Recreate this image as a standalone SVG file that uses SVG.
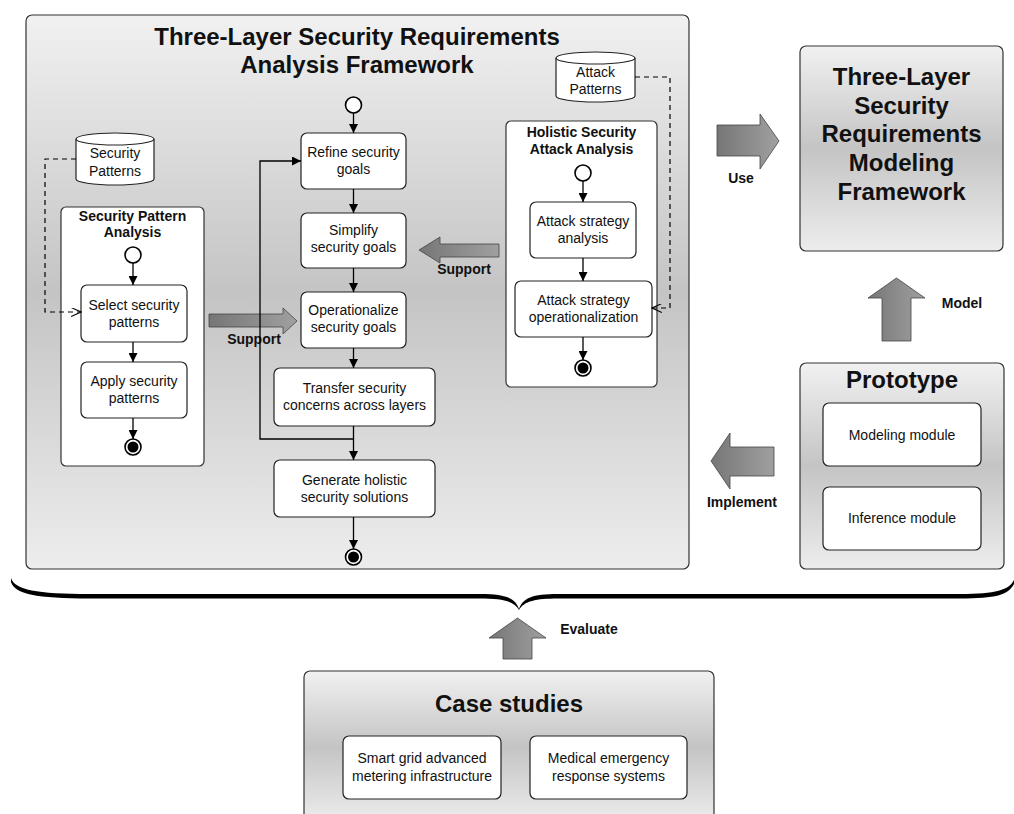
<svg xmlns="http://www.w3.org/2000/svg" width="1014" height="814" viewBox="0 0 1014 814">
  <defs>
    <linearGradient id="panelFill" x1="0" y1="0" x2="0" y2="1">
      <stop offset="0" stop-color="#f1f1f1"/>
      <stop offset="0.5" stop-color="#c4c4c4"/>
      <stop offset="1" stop-color="#ededed"/>
    </linearGradient>
    <linearGradient id="blockFill" x1="0" y1="0" x2="1" y2="0">
      <stop offset="0" stop-color="#767676"/>
      <stop offset="1" stop-color="#a0a0a0"/>
    </linearGradient>
    <marker id="arrowSolid" viewBox="0 0 10 10" refX="10" refY="5" markerWidth="9" markerHeight="9" markerUnits="userSpaceOnUse" orient="auto">
      <path d="M0,0 L10,5 L0,10 z" fill="#000"/>
    </marker>
    <marker id="arrowOpen" viewBox="0 0 12 10" refX="11" refY="5" markerWidth="11" markerHeight="9" markerUnits="userSpaceOnUse" orient="auto">
      <path d="M0,0 L11,5 L0,10" fill="none" stroke="#000" stroke-width="1.2"/>
    </marker>
  </defs>
  <style>
    .panel { fill: url(#panelFill); stroke: #333; stroke-width: 1.2; }
    .lane { fill: #fff; stroke: #333; stroke-width: 1.2; }
    .act { fill: #fff; stroke: #222; stroke-width: 1.2; }
    .store { fill: #fff; stroke: #222; stroke-width: 1.2; }
    .block { fill: url(#blockFill); stroke: #444; stroke-width: 0.8; }
    .flow { fill: none; stroke: #000; stroke-width: 1.3; marker-end: url(#arrowSolid); }
    .trace { fill: none; stroke: #000; stroke-width: 1.2; stroke-dasharray: 5 4; marker-end: url(#arrowOpen); }
    .start { fill: #fff; stroke: #000; stroke-width: 1.6; }
    .endRing { fill: #fff; stroke: #000; stroke-width: 1.6; }
    .endDot { fill: #000; }
    text { font-family: "Liberation Sans", Arial, Helvetica, sans-serif; fill: #111; text-anchor: middle; }
    .t { font-size: 14px; }
    .tb { font-size: 14px; font-weight: bold; }
    .big { font-size: 24px; font-weight: bold; }
  </style>

  <!-- analysis framework panel -->
  <g id="analysis-framework">
    <rect class="panel" x="26" y="15" width="663" height="554" rx="6"/>
    <text class="big" x="357" y="45">Three-Layer Security Requirements</text>
    <text class="big" x="357" y="73">Analysis Framework</text>
  </g>

  <!-- block arrows and their labels -->
  <g id="support-left">
    <path class="block" d="M209,314 L283,314 L283,308 L297,321 L283,334 L283,327 L209,327 Z"/>
    <text class="tb" x="254" y="344">Support</text>
  </g>
  <g id="support-right">
    <path class="block" d="M499,244 L440,244 L440,237 L419,250 L440,263 L440,257 L499,257 Z"/>
    <text class="tb" x="464" y="274">Support</text>
  </g>
  <g id="use-arrow">
    <path class="block" d="M717,125 L760,125 L760,114 L779,141 L760,169 L760,156 L717,156 Z"/>
    <text class="tb" x="741" y="183">Use</text>
  </g>
  <g id="model-arrow">
    <path class="block" d="M882,341 L882,298 L868,298 L896.5,278 L925,298 L911,298 L911,341 Z"/>
    <text class="tb" x="962" y="308">Model</text>
  </g>
  <g id="implement-arrow">
    <path class="block" d="M774,447 L730,447 L730,433 L711,461 L730,489 L730,476 L774,476 Z"/>
    <text class="tb" x="742" y="507">Implement</text>
  </g>
  <g id="evaluate-arrow">
    <path class="block" d="M503,659 L503,638 L489,638 L517.5,618 L546,638 L532,638 L532,659 Z"/>
    <text class="tb" x="589" y="634">Evaluate</text>
  </g>

  <!-- data stores -->
  <g id="security-patterns">
    <path class="store" d="M76,139 A39,6 0 0 1 154,139 L154,179 A39,6 0 0 1 76,179 Z"/>
    <path class="store" d="M76,139 A39,6 0 0 0 154,139" fill="none"/>
    <text class="t" x="115" y="158">Security</text>
    <text class="t" x="115" y="176">Patterns</text>
  </g>
  <g id="attack-patterns">
    <path class="store" d="M556,58 A39.5,6 0 0 1 635,58 L635,96 A39.5,6 0 0 1 556,96 Z"/>
    <path class="store" d="M556,58 A39.5,6 0 0 0 635,58" fill="none"/>
    <text class="t" x="595.5" y="77">Attack</text>
    <text class="t" x="595.5" y="94">Patterns</text>
  </g>

  <!-- security pattern analysis lane -->
  <g id="security-pattern-analysis">
    <rect class="lane" x="61" y="207" width="143" height="259" rx="5"/>
    <text class="tb" x="132.5" y="221">Security Pattern</text>
    <text class="tb" x="132.5" y="237">Analysis</text>
  </g>
  <g id="spa-start"><circle class="start" cx="133" cy="255" r="8"/></g>
  <g id="select-patterns">
    <rect class="act" x="81" y="285" width="106" height="57" rx="6"/>
    <text class="t" x="134" y="310">Select security</text>
    <text class="t" x="134" y="327">patterns</text>
  </g>
  <g id="apply-patterns">
    <rect class="act" x="81" y="362" width="106" height="56" rx="6"/>
    <text class="t" x="134" y="386">Apply security</text>
    <text class="t" x="134" y="403">patterns</text>
  </g>
  <g id="spa-end">
    <circle class="endRing" cx="133" cy="447" r="8"/>
    <circle class="endDot" cx="133" cy="447" r="5.5"/>
  </g>

  <!-- main activity flow -->
  <g id="main-start"><circle class="start" cx="353.5" cy="105" r="8"/></g>
  <g id="refine-goals">
    <rect class="act" x="301" y="133" width="105" height="56" rx="6"/>
    <text class="t" x="353.5" y="157">Refine security</text>
    <text class="t" x="353.5" y="174">goals</text>
  </g>
  <g id="simplify-goals">
    <rect class="act" x="301" y="213" width="105" height="55" rx="6"/>
    <text class="t" x="353.5" y="235">Simplify</text>
    <text class="t" x="353.5" y="252">security goals</text>
  </g>
  <g id="operationalize-goals">
    <rect class="act" x="301" y="292" width="105" height="56" rx="6"/>
    <text class="t" x="353.5" y="315">Operationalize</text>
    <text class="t" x="353.5" y="332">security goals</text>
  </g>
  <g id="transfer-concerns">
    <rect class="act" x="274" y="368" width="161" height="58" rx="6"/>
    <text class="t" x="354.5" y="393">Transfer security</text>
    <text class="t" x="354.5" y="410">concerns across layers</text>
  </g>
  <g id="generate-solutions">
    <rect class="act" x="274" y="460" width="161" height="57" rx="6"/>
    <text class="t" x="354.5" y="485">Generate holistic</text>
    <text class="t" x="354.5" y="502">security solutions</text>
  </g>
  <g id="main-end">
    <circle class="endRing" cx="353.5" cy="557" r="8"/>
    <circle class="endDot" cx="353.5" cy="557" r="5.5"/>
  </g>

  <!-- holistic security attack analysis lane -->
  <g id="attack-analysis">
    <rect class="lane" x="506" y="121" width="151" height="266" rx="5"/>
    <text class="tb" x="581.5" y="137">Holistic Security</text>
    <text class="tb" x="581.5" y="154">Attack Analysis</text>
  </g>
  <g id="attack-start"><circle class="start" cx="583" cy="173" r="8"/></g>
  <g id="strategy-analysis">
    <rect class="act" x="530" y="202" width="106" height="56" rx="6"/>
    <text class="t" x="583" y="226">Attack strategy</text>
    <text class="t" x="583" y="243">analysis</text>
  </g>
  <g id="strategy-operationalization">
    <rect class="act" x="515" y="281" width="137" height="56" rx="6"/>
    <text class="t" x="583.5" y="305">Attack strategy</text>
    <text class="t" x="583.5" y="322">operationalization</text>
  </g>
  <g id="attack-end">
    <circle class="endRing" cx="583" cy="368" r="8"/>
    <circle class="endDot" cx="583" cy="368" r="5.5"/>
  </g>

  <!-- modeling framework -->
  <g id="modeling-framework">
    <rect class="panel" x="800" y="46" width="203" height="205" rx="6"/>
    <text class="big" x="901.5" y="85">Three-Layer</text>
    <text class="big" x="901.5" y="114">Security</text>
    <text class="big" x="901.5" y="142">Requirements</text>
    <text class="big" x="901.5" y="171">Modeling</text>
    <text class="big" x="901.5" y="200">Framework</text>
  </g>

  <!-- prototype -->
  <g id="prototype">
    <rect class="panel" x="800" y="363" width="204" height="206" rx="6"/>
    <text class="big" x="902" y="388">Prototype</text>
  </g>
  <g id="modeling-module">
    <rect class="act" x="823" y="403" width="158" height="63" rx="6"/>
    <text class="t" x="902" y="440">Modeling module</text>
  </g>
  <g id="inference-module">
    <rect class="act" x="823" y="487" width="158" height="63" rx="6"/>
    <text class="t" x="902" y="523">Inference module</text>
  </g>

  <!-- case studies -->
  <g id="case-studies">
    <rect class="panel" x="304" y="671" width="410" height="152" rx="6"/>
    <text class="big" x="509" y="712">Case studies</text>
  </g>
  <g id="smart-grid">
    <rect class="act" x="343" y="736" width="158" height="63" rx="6"/>
    <text class="t" x="422" y="763">Smart grid advanced</text>
    <text class="t" x="422" y="781">metering infrastructure</text>
  </g>
  <g id="medical-emergency">
    <rect class="act" x="530" y="736" width="157" height="63" rx="6"/>
    <text class="t" x="608.5" y="763">Medical emergency</text>
    <text class="t" x="608.5" y="781">response systems</text>
  </g>

  <!-- curly brace grouping the upper part -->
  <g id="brace">
    <path fill="#000" d="M11,578 C15,590 36,594 90,594 L480,594 C506,594 515,598 519,609 C523,598 532,594 558,594 L960,594 C996,594 1009,590 1014,580 L1014,584 C1008,595 996,598.5 960,598.5 L558,598.5 C536,598.5 524,601 519,610 C514,601 502,598.5 480,598.5 L90,598.5 C36,598.5 15,594 11,582 Z"/>
  </g>

  <!-- connectors -->
  <g id="connectors">
    <line class="flow" x1="133" y1="263" x2="133" y2="285"/>
    <line class="flow" x1="133" y1="342" x2="133" y2="362"/>
    <line class="flow" x1="133" y1="418" x2="133" y2="439"/>

    <line class="flow" x1="353.5" y1="113" x2="353.5" y2="133"/>
    <line class="flow" x1="353.5" y1="189" x2="353.5" y2="213"/>
    <line class="flow" x1="353.5" y1="268" x2="353.5" y2="292"/>
    <line class="flow" x1="353.5" y1="348" x2="353.5" y2="368"/>
    <line class="flow" x1="353.5" y1="426" x2="353.5" y2="460"/>
    <line class="flow" x1="353.5" y1="517" x2="353.5" y2="549"/>
    <polyline class="flow" points="353.5,439 260,439 260,161 301,161"/>

    <line class="flow" x1="583" y1="181" x2="583" y2="202"/>
    <line class="flow" x1="583" y1="258" x2="583" y2="281"/>
    <line class="flow" x1="583" y1="337" x2="583" y2="360"/>

    <polyline class="trace" points="76,159 45,159 45,312 81,312"/>
    <polyline class="trace" points="635,77 670,77 670,308 652,308"/>
  </g>
</svg>
